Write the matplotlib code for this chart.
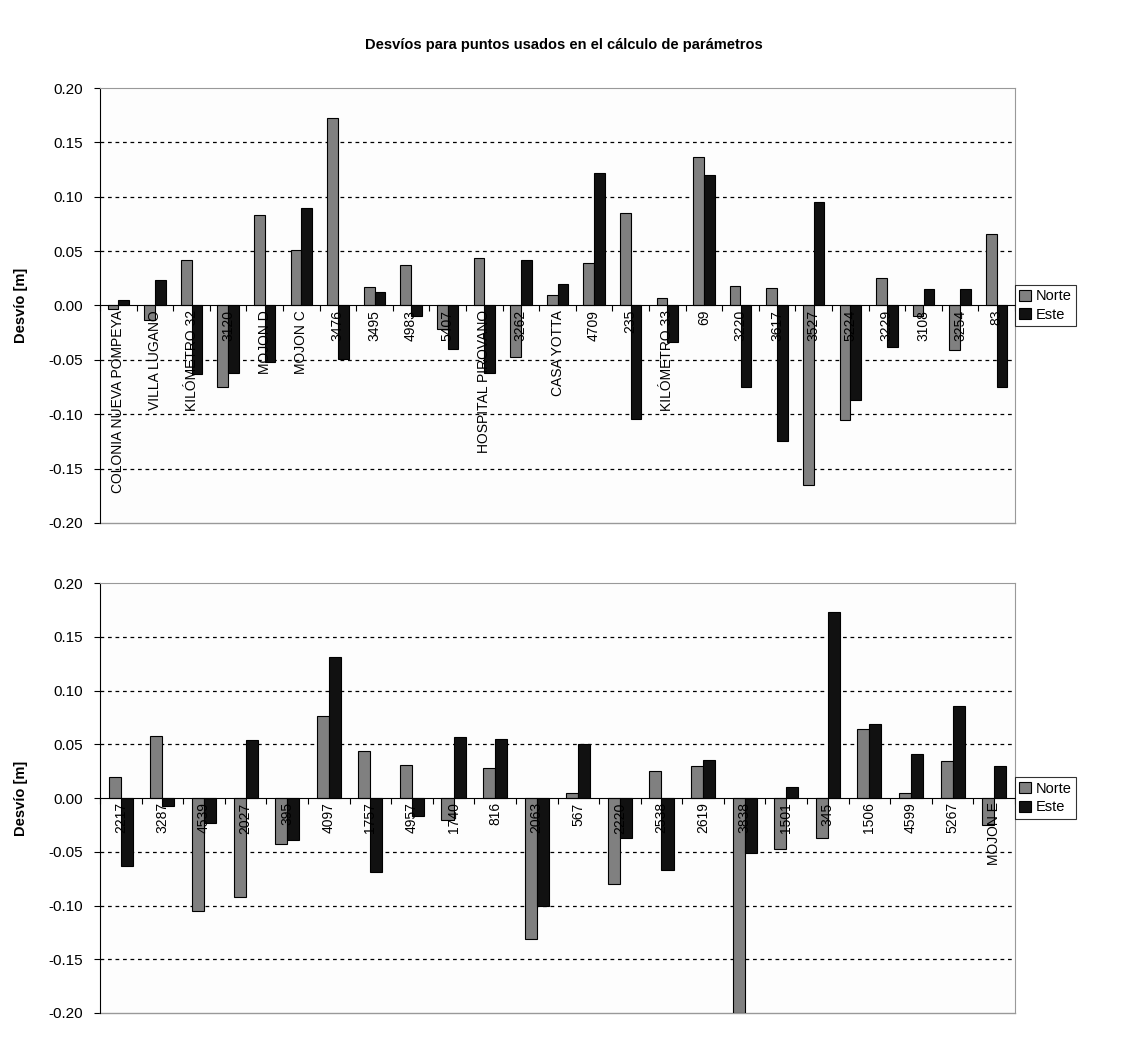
import numpy as np
import matplotlib
matplotlib.use("Agg")
import matplotlib.pyplot as plt
from matplotlib.ticker import FuncFormatter

plt.rcParams['font.family'] = ['Liberation Sans', 'DejaVu Sans']
plt.rcParams['axes.unicode_minus'] = False

# panel superior
cats_top = ["COLONIA NUEVA POMPEYA", "VILLA LUGANO", "KILÓMETRO 32", "3120", "MOJON D",
            "MOJON C", "3476", "3495", "4983", "5407", "HOSPITAL PIROVANO", "3262",
            "CASA YOTTA", "4709", "235", "KILÓMETRO 33", "69", "3220", "3617", "3527",
            "5224", "3229", "3108", "3254", "83"]
norte_top = [-0.003, -0.013, 0.042, -0.075, 0.083, 0.051, 0.172, 0.017, 0.037, -0.022,
             0.044, -0.047, 0.010, 0.039, 0.085, 0.007, 0.137, 0.018, 0.016, -0.165,
             -0.105, 0.025, -0.010, -0.041, 0.066]
este_top = [0.005, 0.023, -0.063, -0.062, -0.052, 0.090, -0.049, 0.012, -0.010, -0.040,
            -0.062, 0.042, 0.020, 0.122, -0.104, -0.034, 0.120, -0.075, -0.125, 0.095,
            -0.087, -0.038, 0.015, 0.015, -0.075]

# panel inferior
cats_bot = ["2217", "3287", "4539", "2027", "395", "4097", "1757", "4957", "1740", "816",
            "2063", "567", "2220", "2538", "2619", "3838", "1501", "345", "1506", "4599",
            "5267", "MOJON E"]
norte_bot = [0.020, 0.058, -0.105, -0.092, -0.043, 0.076, 0.044, 0.031, -0.020, 0.028,
             -0.131, 0.005, -0.080, 0.025, 0.030, -0.200, -0.047, -0.037, 0.064, 0.005,
             0.034, -0.025]
este_bot = [-0.063, -0.007, -0.023, 0.054, -0.039, 0.131, -0.069, -0.017, 0.057, 0.055,
            -0.100, 0.050, -0.037, -0.067, 0.035, -0.051, 0.010, 0.173, 0.069, 0.041,
            0.086, 0.030]

fig = plt.figure(figsize=(11.28, 10.57), dpi=100)
fig.patch.set_facecolor('white')
fig.text(0.5, 0.957, "Desvíos para puntos usados en el cálculo de parámetros",
         ha='center', va='center', fontsize=10.5, fontweight='bold')

W, H = 1128, 1057
ax1 = fig.add_axes([100 / W, 1 - 523 / H, 915 / W, 435 / H])
ax2 = fig.add_axes([100 / W, 1 - 1013 / H, 915 / W, 430 / H])


def fmt(v, pos):
    s = "%.2f" % v
    return "0.00" if s == "-0.00" else s


def draw(ax, cats, norte, este):
    n = len(cats)
    x = np.arange(n)
    w = 0.29
    ax.set_facecolor('#fdfdfd')
    ax.bar(x - w / 2, norte, w, color='#808080', edgecolor='black', linewidth=0.8,
           label='Norte', zorder=3)
    ax.bar(x + w / 2, este, w, color='#111111', edgecolor='black', linewidth=0.8,
           label='Este', zorder=3)
    ax.set_xlim(-0.5, n - 0.5)
    ax.set_ylim(-0.2, 0.2)
    ax.set_yticks(np.arange(-0.2, 0.201, 0.05))
    ax.yaxis.set_major_formatter(FuncFormatter(fmt))
    ax.tick_params(axis='y', labelsize=11, length=4, direction='out', pad=8)
    for yv in np.arange(-0.15, 0.151, 0.05):
        if abs(yv) > 1e-9:
            ax.axhline(yv, color='black', linestyle=(0, (3, 3)), linewidth=0.9, zorder=1)
    ax.spines['bottom'].set_position(('data', 0))
    ax.spines['bottom'].set_zorder(4)
    ax.set_xticks(np.arange(n + 1) - 0.5)
    ax.set_xticklabels([])
    ax.tick_params(axis='x', length=4, direction='out')
    for s in ['top', 'right']:
        ax.spines[s].set_color('#999999')
    ax.plot([0, 1], [0, 0], transform=ax.transAxes, color='#999999', lw=1, clip_on=False)
    for i, c in enumerate(cats):
        ax.text(i, -0.004, c, rotation=90, ha='center', va='top', fontsize=10, zorder=5)
    ax.set_ylabel("Desvío [m]", fontsize=10.5, fontweight='bold', labelpad=15)
    leg = ax.legend(loc='center left', bbox_to_anchor=(1.0, 0.5), fontsize=10.5,
                    frameon=True, fancybox=False, edgecolor='black',
                    handlelength=0.8, handleheight=0.8, borderpad=0.3,
                    labelspacing=0.3, handletextpad=0.3, borderaxespad=0.0)
    leg.get_frame().set_linewidth(0.8)


draw(ax1, cats_top, norte_top, este_top)
draw(ax2, cats_bot, norte_bot, este_bot)

fig.savefig("out.png", dpi=100)
